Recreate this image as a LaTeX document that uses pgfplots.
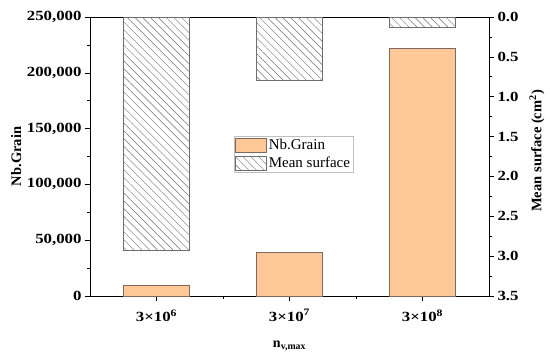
\documentclass[border=0pt]{standalone}
\usepackage{fontspec}
\setmainfont{Liberation Serif}
\newfontfamily\tickfont{Liberation Serif}[FakeStretch=1.2]
\usepackage{pgfplots}
\pgfplotsset{compat=1.18}
\usetikzlibrary{patterns.meta}
\definecolor{barorange}{RGB}{255,200,150}
\definecolor{baredge}{RGB}{125,105,95}
\definecolor{hatchgray}{RGB}{110,110,110}
\begin{document}
\begin{tikzpicture}
\pgfplotsset{
  common/.style={
    scale only axis, width=399pt, height=279pt,
    at={(0pt,0pt)}, anchor=south west,
    xmin=0.5, xmax=3.5,
    tick align=outside,
    major tick length=5pt, minor tick length=3pt,
    every tick/.style={black, line width=0.6pt},
    axis line style={line width=0.6pt},
    tick label style={font=\tickfont\bfseries\fontsize{14}{16}\selectfont},
    /pgf/number format/assume math mode=true,
    ybar, bar width=0.5, bar shift=0pt,
  }
}
\begin{axis}[common,
  ymin=0, ymax=250000,
  ytick={0,50000,100000,150000,200000,250000},
  minor ytick={25000,75000,125000,175000,225000},
  scaled y ticks=false,
  yticklabel style={/pgf/number format/.cd, 1000 sep={,}, fixed},
  ytick pos=left,
  xtick={1,2,3},
  minor xtick={1.5,2.5},
  xtick pos=bottom,
  xticklabels={3×10\textsuperscript{6},3×10\textsuperscript{7},3×10\textsuperscript{8}},
  xticklabel style={yshift=-5pt},
  ylabel={\bfseries\fontsize{14.5}{16}\selectfont Nb.Grain},
  every axis y label/.style={at={(axis description cs:-0.185,0.5)}, rotate=90, anchor=center},
  xlabel={\bfseries\fontsize{14}{16}\selectfont n\textsubscript{v,max}},
  every axis x label/.style={at={(axis description cs:0.5,-0.18)}, anchor=center},
]
\addplot[fill=barorange, draw=baredge, line width=0.6pt] coordinates {(1,10000) (2,39400) (3,222000)};
\end{axis}
\begin{axis}[common,
  ymin=0, ymax=3.5, y dir=reverse,
  axis x line=none,
  axis y line*=right,
  ytick={0,0.5,...,3.5},
  minor ytick={0.25,0.75,...,3.25},
  yticklabel style={/pgf/number format/.cd, fixed, fixed zerofill, precision=1},
  ylabel={\bfseries\fontsize{14.5}{16}\selectfont Mean surface (cm\textsuperscript{2})},
  every axis y label/.style={at={(axis description cs:1.12,0.52)}, rotate=90, anchor=center},
  legend style={at={(axis description cs:0.361,0.573)}, anchor=north west,
    draw=gray!50, line width=0.4pt, inner sep=1pt, row sep=2pt,
    font=\fontsize{15}{16}\selectfont, cells={anchor=west}},
  legend image code/.code={\draw[#1] (0pt,-7pt) rectangle (31pt,7pt);},
]
\addlegendimage{fill=barorange, draw=baredge, line width=0.6pt}
\addlegendentry{Nb.Grain}
\addplot[pattern={Lines[angle=-45, distance=5.5pt, line width=0.45pt]}, pattern color=hatchgray, draw=hatchgray, line width=0.6pt] coordinates {(1,2.93) (2,0.79) (3,0.13)};
\addlegendentry{Mean surface}
\end{axis}
\pgfresetboundingbox
\path (-90pt,-61pt) rectangle (460pt,296pt);
\end{tikzpicture}
\end{document}
